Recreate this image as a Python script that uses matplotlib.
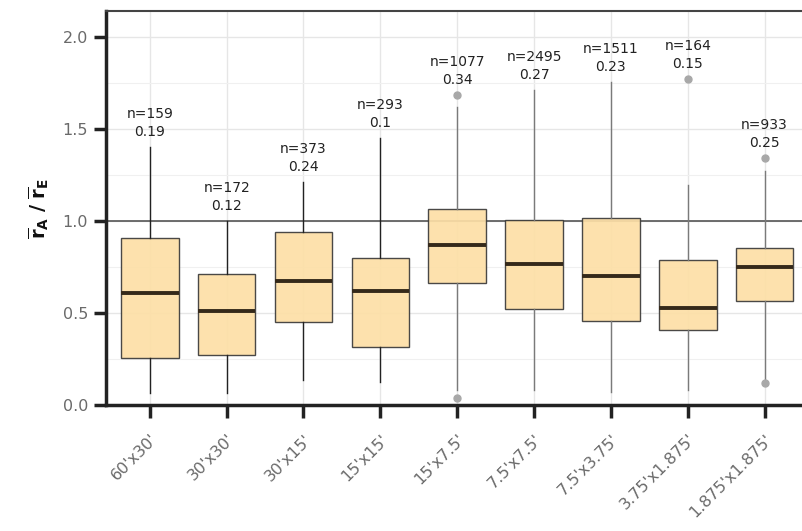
import matplotlib
matplotlib.use("Agg")
import matplotlib.pyplot as plt
from matplotlib.ticker import MultipleLocator

plt.rcParams['mathtext.fontset'] = 'dejavusans'

labels = ["60'x30'", "30'x30'", "30'x15'", "15'x15'", "15'x7.5'", "7.5'x7.5'",
          "7.5'x3.75'", "3.75'x1.875'", "1.875'x1.875'"]
whislo = [0.065, 0.065, 0.135, 0.125, 0.08, 0.08, 0.07, 0.08, 0.14]
q1 = [0.255, 0.27, 0.45, 0.315, 0.665, 0.52, 0.457, 0.41, 0.565]
med = [0.61, 0.51, 0.675, 0.62, 0.87, 0.766, 0.70, 0.53, 0.75]
q3 = [0.91, 0.71, 0.94, 0.80, 1.065, 1.005, 1.015, 0.79, 0.853]
whishi = [1.40, 1.0, 1.21, 1.45, 1.62, 1.71, 1.755, 1.195, 1.27]
outliers = [[], [], [], [], [0.04, 1.685], [], [], [1.77], [0.12, 1.34]]
n_obs = [159, 172, 373, 293, 1077, 2495, 1511, 164, 933]
stat_val = ["0.19", "0.12", "0.24", "0.1", "0.34", "0.27", "0.23", "0.15", "0.25"]

stats = []
for i in range(len(labels)):
    stats.append({"whislo": whislo[i], "q1": q1[i], "med": med[i], "q3": q3[i],
                  "whishi": whishi[i], "fliers": outliers[i]})

fig = plt.figure(figsize=(8.03, 5.31), dpi=100)
ax = fig.add_axes([0.132, 0.237, 0.868, 0.742])

pos = list(range(1, len(labels) + 1))
bp = ax.bxp(stats, positions=pos, widths=0.75, patch_artist=True, showcaps=False,
            boxprops=dict(facecolor="#fddfa6", edgecolor="#3a3a3a", linewidth=1.0, alpha=0.92),
            medianprops=dict(color="#35291a", linewidth=2.8),
            flierprops=dict(marker="o", markersize=5, markerfacecolor="#a8a8a8",
                            markeredgecolor="#a8a8a8"),
            whiskerprops=dict(color="#222222", linewidth=1.0), zorder=3)
for i, w in enumerate(bp["whiskers"]):
    if i // 2 >= 4:
        w.set_color("#7a7a7a")

for i in range(len(labels)):
    top = max([whishi[i]] + outliers[i])
    ax.annotate("n=%d\n%s" % (n_obs[i], stat_val[i]), (pos[i], top),
                xytext=(0, 6), textcoords="offset points", ha="center", va="bottom",
                fontsize=10, color="#222222", linespacing=1.35, zorder=5)

ax.axhline(1.0, color="#555555", linewidth=1.2, zorder=2)

ax.set_xlim(0.43, 9.5)
ax.set_ylim(0, 2.14)
ax.yaxis.set_major_locator(MultipleLocator(0.5))
ax.yaxis.set_minor_locator(MultipleLocator(0.25))
ax.set_xticks(pos)
ax.set_xticklabels(labels, rotation=45, ha="right", rotation_mode="anchor")
ax.set_yticks([0.0, 0.5, 1.0, 1.5, 2.0])
ax.set_yticklabels(["0.0", "0.5", "1.0", "1.5", "2.0"])

ax.grid(True, which="major", color="#e6e6e6", linewidth=1.0, zorder=0)
ax.grid(True, which="minor", axis="y", color="#f0f0f0", linewidth=0.8, zorder=0)
ax.set_axisbelow(True)

ax.tick_params(axis="both", which="major", length=9, width=2.5, color="#222222",
               labelcolor="#6a6a6a", labelsize=11.5, pad=4)
ax.tick_params(axis="x", which="major", pad=10)
ax.tick_params(axis="both", which="minor", length=0)

ax.spines["right"].set_visible(False)
ax.spines["top"].set_color("#444444")
ax.spines["top"].set_linewidth(1.5)
for s in ["left", "bottom"]:
    ax.spines[s].set_color("#222222")
    ax.spines[s].set_linewidth(2.5)

ax.set_ylabel(r"$\mathbf{\overline{r}_A\ /\ \overline{r}_E}$", fontsize=14, color="#111111",
              labelpad=8)

fig.savefig("out.png", dpi=100)
